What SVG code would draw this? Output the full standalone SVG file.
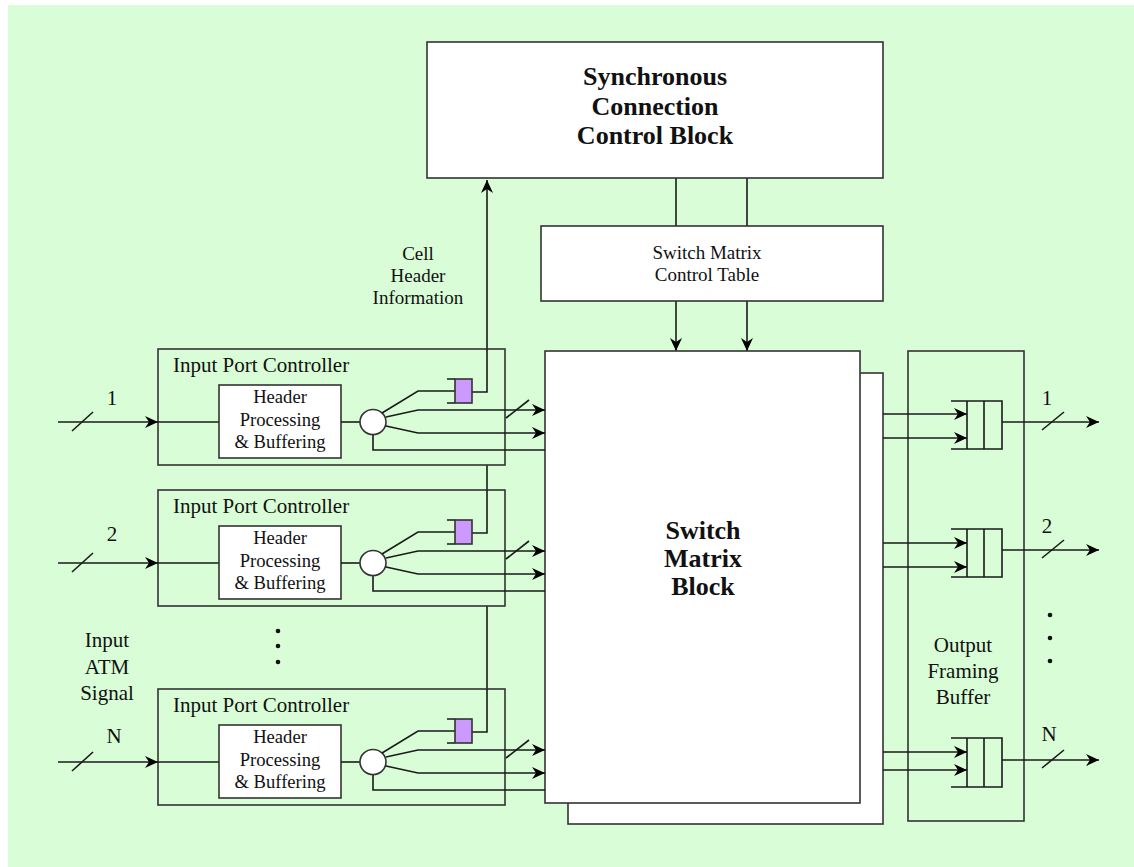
<svg xmlns="http://www.w3.org/2000/svg" width="1134" height="867" viewBox="0 0 1134 867">
<defs>
<marker id="ah" markerWidth="14" markerHeight="12" refX="13" refY="6" orient="auto" markerUnits="userSpaceOnUse">
<path d="M0,0 L13,6 L0,12 L4,6 Z" fill="#000"/>
</marker>
<style>
.ln{fill:none;stroke:#1a1a1a;stroke-width:1.6}
.box{fill:#fff;stroke:#333;stroke-width:1.6}
.gbox{fill:#d9fdd6;stroke:#333;stroke-width:1.6}
.pur{fill:#cc99ff;stroke:#333;stroke-width:1.6}
.t{font-family:"Liberation Serif",serif;font-size:21px;fill:#111}
.tm{font-family:"Liberation Serif",serif;font-size:19px;fill:#111}
.ts{font-family:"Liberation Serif",serif;font-size:18.6px;fill:#111}
.tb{font-family:"Liberation Serif",serif;font-size:26px;font-weight:bold;fill:#111}
.dot{fill:#111}
</style>
</defs>
<rect x="8" y="5" width="1126" height="862" fill="#d9fdd6"/>

<g id="connectors">
<path class="ln" d="M487,392 L487,180" marker-end="url(#ah)"/>
<path class="ln" d="M487,465 L487,533"/>
<path class="ln" d="M487,606 L487,732"/>
<line class="ln" x1="676" y1="178" x2="676" y2="226"/>
<line class="ln" x1="747" y1="178" x2="747" y2="226"/>
<path class="ln" d="M676,301 L676,351" marker-end="url(#ah)"/>
<path class="ln" d="M747,301 L747,351" marker-end="url(#ah)"/>
</g>

<g id="sccb">
<rect class="box" x="427" y="42" width="456" height="136"/>
<text class="tb" text-anchor="middle" x="655" y="85">Synchronous</text>
<text class="tb" text-anchor="middle" x="655" y="115">Connection</text>
<text class="tb" text-anchor="middle" x="655" y="144">Control Block</text>
</g>

<g id="smct">
<rect class="box" x="541" y="226" width="342" height="75"/>
<text class="tm" text-anchor="middle" x="707" y="259">Switch Matrix</text>
<text class="tm" text-anchor="middle" x="707" y="281">Control Table</text>
</g>

<g id="cell-label">
<text class="tm" text-anchor="middle" x="418" y="260">Cell</text>
<text class="tm" text-anchor="middle" x="418" y="282">Header</text>
<text class="tm" text-anchor="middle" x="418" y="304">Information</text>
</g>

<g id="switch-matrix">
<rect class="box" x="568" y="373" width="315" height="451"/>
<rect class="box" x="545" y="351" width="315" height="452"/>
<text class="tb" text-anchor="middle" x="703" y="539">Switch</text>
<text class="tb" text-anchor="middle" x="703" y="567">Matrix</text>
<text class="tb" text-anchor="middle" x="703" y="595">Block</text>
</g>

<g id="output-framing-buffer">
<rect class="gbox" x="908" y="351" width="116" height="470"/>
<text class="t" text-anchor="middle" x="963" y="652">Output</text>
<text class="t" text-anchor="middle" x="963" y="678">Framing</text>
<text class="t" text-anchor="middle" x="963" y="704">Buffer</text>
</g>

<g id="ipc1">
<rect class="gbox" x="158" y="349" width="347" height="116"/>
<path class="ln" d="M487,349 L487,392 L472,392"/>
<text class="t" x="173" y="372">Input Port Controller</text>
<path class="ln" d="M58,422 L158,422" marker-end="url(#ah)"/>
<line class="ln" x1="72" y1="431" x2="93" y2="412"/>
<text class="t" text-anchor="middle" x="112" y="405">1</text>
<line class="ln" x1="158" y1="422" x2="219" y2="422"/>
<rect class="box" x="219" y="385" width="122" height="73"/>
<text class="ts" text-anchor="middle" x="280" y="403">Header</text>
<text class="ts" text-anchor="middle" x="280" y="426">Processing</text>
<text class="ts" text-anchor="middle" x="280" y="448">&amp; Buffering</text>
<line class="ln" x1="341" y1="422" x2="360" y2="422"/>
<ellipse class="box" cx="373" cy="422" rx="13" ry="12.5"/>
<path class="ln" d="M382,413 L418,391 L455,391"/>
<path class="ln" d="M447,379 L455,379 M447,403 L455,403"/>
<rect class="pur" x="455" y="379" width="17" height="24"/>
<path class="ln" d="M386,417 L418,410 L545,410" marker-end="url(#ah)"/>
<path class="ln" d="M386,426 L418,433 L545,433" marker-end="url(#ah)"/>
<path class="ln" d="M373,435 L373,450 L545,450"/>
<line class="ln" x1="506" y1="418" x2="529" y2="400"/>
</g>

<g id="ipc2" transform="translate(0,141)">
<rect class="gbox" x="158" y="349" width="347" height="116"/>
<path class="ln" d="M487,349 L487,392 L472,392"/>
<text class="t" x="173" y="372">Input Port Controller</text>
<path class="ln" d="M58,422 L158,422" marker-end="url(#ah)"/>
<line class="ln" x1="72" y1="431" x2="93" y2="412"/>
<text class="t" text-anchor="middle" x="112" y="400">2</text>
<line class="ln" x1="158" y1="422" x2="219" y2="422"/>
<rect class="box" x="219" y="385" width="122" height="73"/>
<text class="ts" text-anchor="middle" x="280" y="403">Header</text>
<text class="ts" text-anchor="middle" x="280" y="426">Processing</text>
<text class="ts" text-anchor="middle" x="280" y="448">&amp; Buffering</text>
<line class="ln" x1="341" y1="422" x2="360" y2="422"/>
<ellipse class="box" cx="373" cy="422" rx="13" ry="12.5"/>
<path class="ln" d="M382,413 L418,391 L455,391"/>
<path class="ln" d="M447,379 L455,379 M447,403 L455,403"/>
<rect class="pur" x="455" y="379" width="17" height="24"/>
<path class="ln" d="M386,417 L418,410 L545,410" marker-end="url(#ah)"/>
<path class="ln" d="M386,426 L418,433 L545,433" marker-end="url(#ah)"/>
<path class="ln" d="M373,435 L373,450 L545,450"/>
<line class="ln" x1="506" y1="418" x2="529" y2="400"/>
</g>

<g id="ipcN" transform="translate(0,340)">
<rect class="gbox" x="158" y="349" width="347" height="116"/>
<path class="ln" d="M487,349 L487,392 L472,392"/>
<text class="t" x="173" y="372">Input Port Controller</text>
<path class="ln" d="M58,422 L158,422" marker-end="url(#ah)"/>
<line class="ln" x1="72" y1="431" x2="93" y2="412"/>
<text class="t" text-anchor="middle" x="114" y="403">N</text>
<line class="ln" x1="158" y1="422" x2="219" y2="422"/>
<rect class="box" x="219" y="385" width="122" height="73"/>
<text class="ts" text-anchor="middle" x="280" y="403">Header</text>
<text class="ts" text-anchor="middle" x="280" y="426">Processing</text>
<text class="ts" text-anchor="middle" x="280" y="448">&amp; Buffering</text>
<line class="ln" x1="341" y1="422" x2="360" y2="422"/>
<ellipse class="box" cx="373" cy="422" rx="13" ry="12.5"/>
<path class="ln" d="M382,413 L418,391 L455,391"/>
<path class="ln" d="M447,379 L455,379 M447,403 L455,403"/>
<rect class="pur" x="455" y="379" width="17" height="24"/>
<path class="ln" d="M386,417 L418,410 L545,410" marker-end="url(#ah)"/>
<path class="ln" d="M386,426 L418,433 L545,433" marker-end="url(#ah)"/>
<path class="ln" d="M373,435 L373,450 L545,450"/>
<line class="ln" x1="506" y1="418" x2="529" y2="400"/>
</g>

<g id="input-dots">
<circle class="dot" cx="278" cy="631" r="2.3"/>
<circle class="dot" cx="278" cy="646" r="2.3"/>
<circle class="dot" cx="278" cy="662" r="2.3"/>
</g>
<g id="input-label">
<text class="t" text-anchor="middle" x="107" y="647">Input</text>
<text class="t" text-anchor="middle" x="107" y="674">ATM</text>
<text class="t" text-anchor="middle" x="107" y="700">Signal</text>
</g>

<g id="oq1">
<path class="ln" d="M883,414 L967,414" marker-end="url(#ah)"/>
<path class="ln" d="M883,438 L967,438" marker-end="url(#ah)"/>
<path class="ln" d="M951,401 L1002,401 L1002,449 L951,449 M967,401 L967,449 M984,401 L984,449"/>
<path class="ln" d="M1002,422 L1099,422" marker-end="url(#ah)"/>
<line class="ln" x1="1042" y1="430" x2="1064" y2="412"/>
<text class="t" text-anchor="middle" x="1047" y="405">1</text>
</g>
<g id="oq2">
<path class="ln" d="M883,543 L967,543" marker-end="url(#ah)"/>
<path class="ln" d="M883,567 L967,567" marker-end="url(#ah)"/>
<path class="ln" d="M951,529 L1002,529 L1002,577 L951,577 M967,529 L967,577 M984,529 L984,577"/>
<path class="ln" d="M1002,550 L1099,550" marker-end="url(#ah)"/>
<line class="ln" x1="1042" y1="558" x2="1064" y2="540"/>
<text class="t" text-anchor="middle" x="1047" y="533">2</text>
</g>
<g id="oqN">
<path class="ln" d="M883,752 L967,752" marker-end="url(#ah)"/>
<path class="ln" d="M883,770 L967,770" marker-end="url(#ah)"/>
<path class="ln" d="M951,738 L1002,738 L1002,787 L951,787 M967,738 L967,787 M984,738 L984,787"/>
<path class="ln" d="M1002,760 L1099,760" marker-end="url(#ah)"/>
<line class="ln" x1="1042" y1="768" x2="1064" y2="750"/>
<text class="t" text-anchor="middle" x="1049" y="741">N</text>
</g>
<g id="output-dots">
<circle class="dot" cx="1050" cy="615" r="2.3"/>
<circle class="dot" cx="1050" cy="638" r="2.3"/>
<circle class="dot" cx="1050" cy="661" r="2.3"/>
</g>
</svg>
